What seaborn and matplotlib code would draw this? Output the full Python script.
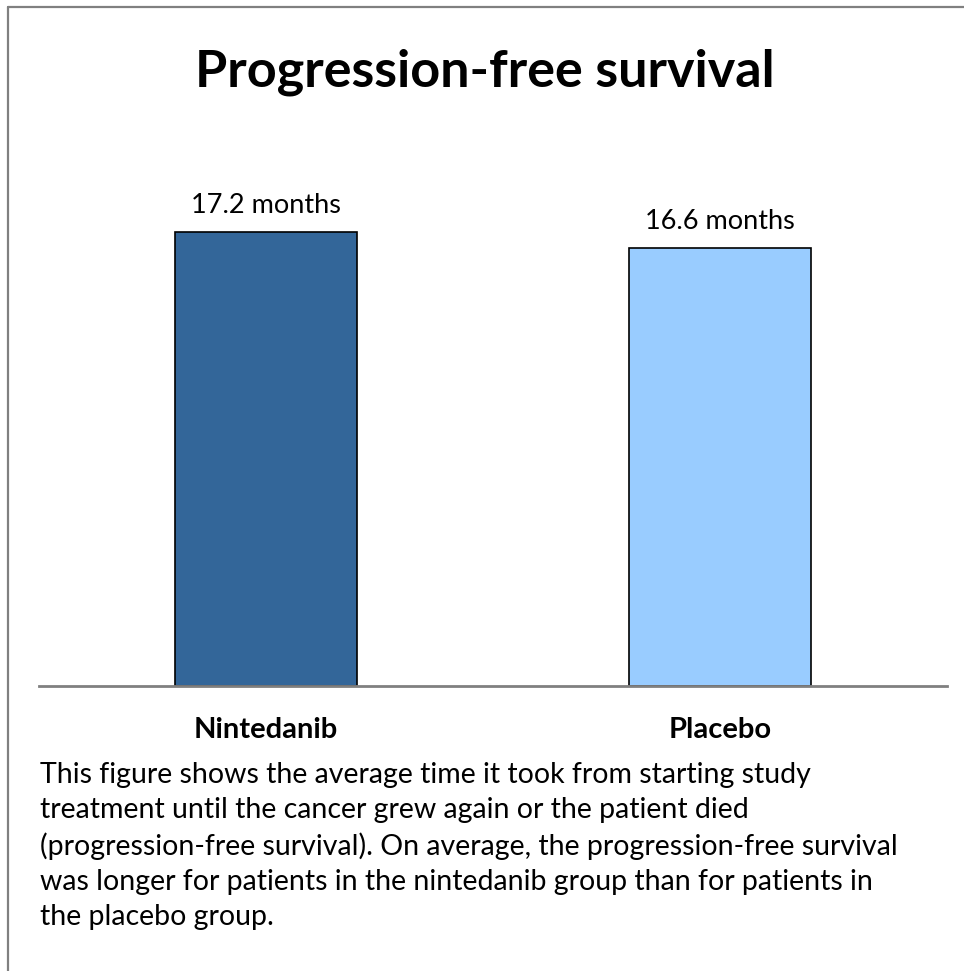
import matplotlib
matplotlib.use("Agg")
import matplotlib.pyplot as plt
import seaborn as sns
import pandas as pd

categories = ["Nintedanib", "Placebo"]
values = [17.2, 16.6]
value_labels = ["17.2 months", "16.6 months"]
bar_colors = ["#336699", "#99CCFF"]
title = "Progression-free survival"
caption = ("This figure shows the average time it took from starting study\n"
           "treatment until the cancer grew again or the patient died\n"
           "(progression-free survival). On average, the progression-free survival\n"
           "was longer for patients in the nintedanib group than for patients in\n"
           "the placebo group.")

sns.set_style("white")
plt.rcParams["font.family"] = ["Lato", "DejaVu Sans"]
plt.rcParams["text.color"] = "black"
plt.rcParams["xtick.color"] = "black"

W, H = 964, 971
fig = plt.figure(figsize=(W / 100, H / 100), dpi=100)

df = pd.DataFrame({"group": categories, "pfs": values})

base_y = 686
ax_top = 158
ax = fig.add_axes([39 / W, (H - base_y) / H, 908 / W, (base_y - ax_top) / H])
sns.barplot(data=df, x="group", y="pfs", hue="group", palette=bar_colors,
            saturation=1, width=0.4, edgecolor="black", linewidth=1.2,
            legend=False, ax=ax)
ax.set_xlim(-0.5, 1.5)
ax.set_ylim(0, 20)
for s in ["top", "right", "left"]:
    ax.spines[s].set_visible(False)
ax.spines["bottom"].set_color("#808080")
ax.spines["bottom"].set_linewidth(2)
ax.set_yticks([])
ax.set_xlabel("")
ax.set_ylabel("")
ax.tick_params(axis="x", length=0, pad=22, colors="black")
ax.set_xticks(range(len(categories)))
ax.set_xticklabels(categories, fontsize=21, fontweight="bold", color="black")

for i, (v, lab) in enumerate(zip(values, value_labels)):
    ax.annotate(lab, (i, v), xytext=(0, 10), textcoords="offset points",
                ha="center", va="bottom", fontsize=19.5, color="black")

fig.text(485 / W, 1 - 72 / H, title, ha="center", va="center",
         fontsize=37.5, fontweight="bold", color="black")
fig.text(40 / W, 1 - 762 / H, caption, ha="left", va="top",
         fontsize=20.5, linespacing=1.43, color="black")

# frame lines (top and left)
fig.add_artist(plt.Line2D([8 / W, 1], [1 - 7.5 / H, 1 - 7.5 / H], color="#808080", lw=1.6,
                          transform=fig.transFigure))
fig.add_artist(plt.Line2D([7.5 / W, 7.5 / W], [0, 1 - 7.5 / H], color="#808080", lw=1.6,
                          transform=fig.transFigure))

fig.savefig("out.png", dpi=100, facecolor="white")
